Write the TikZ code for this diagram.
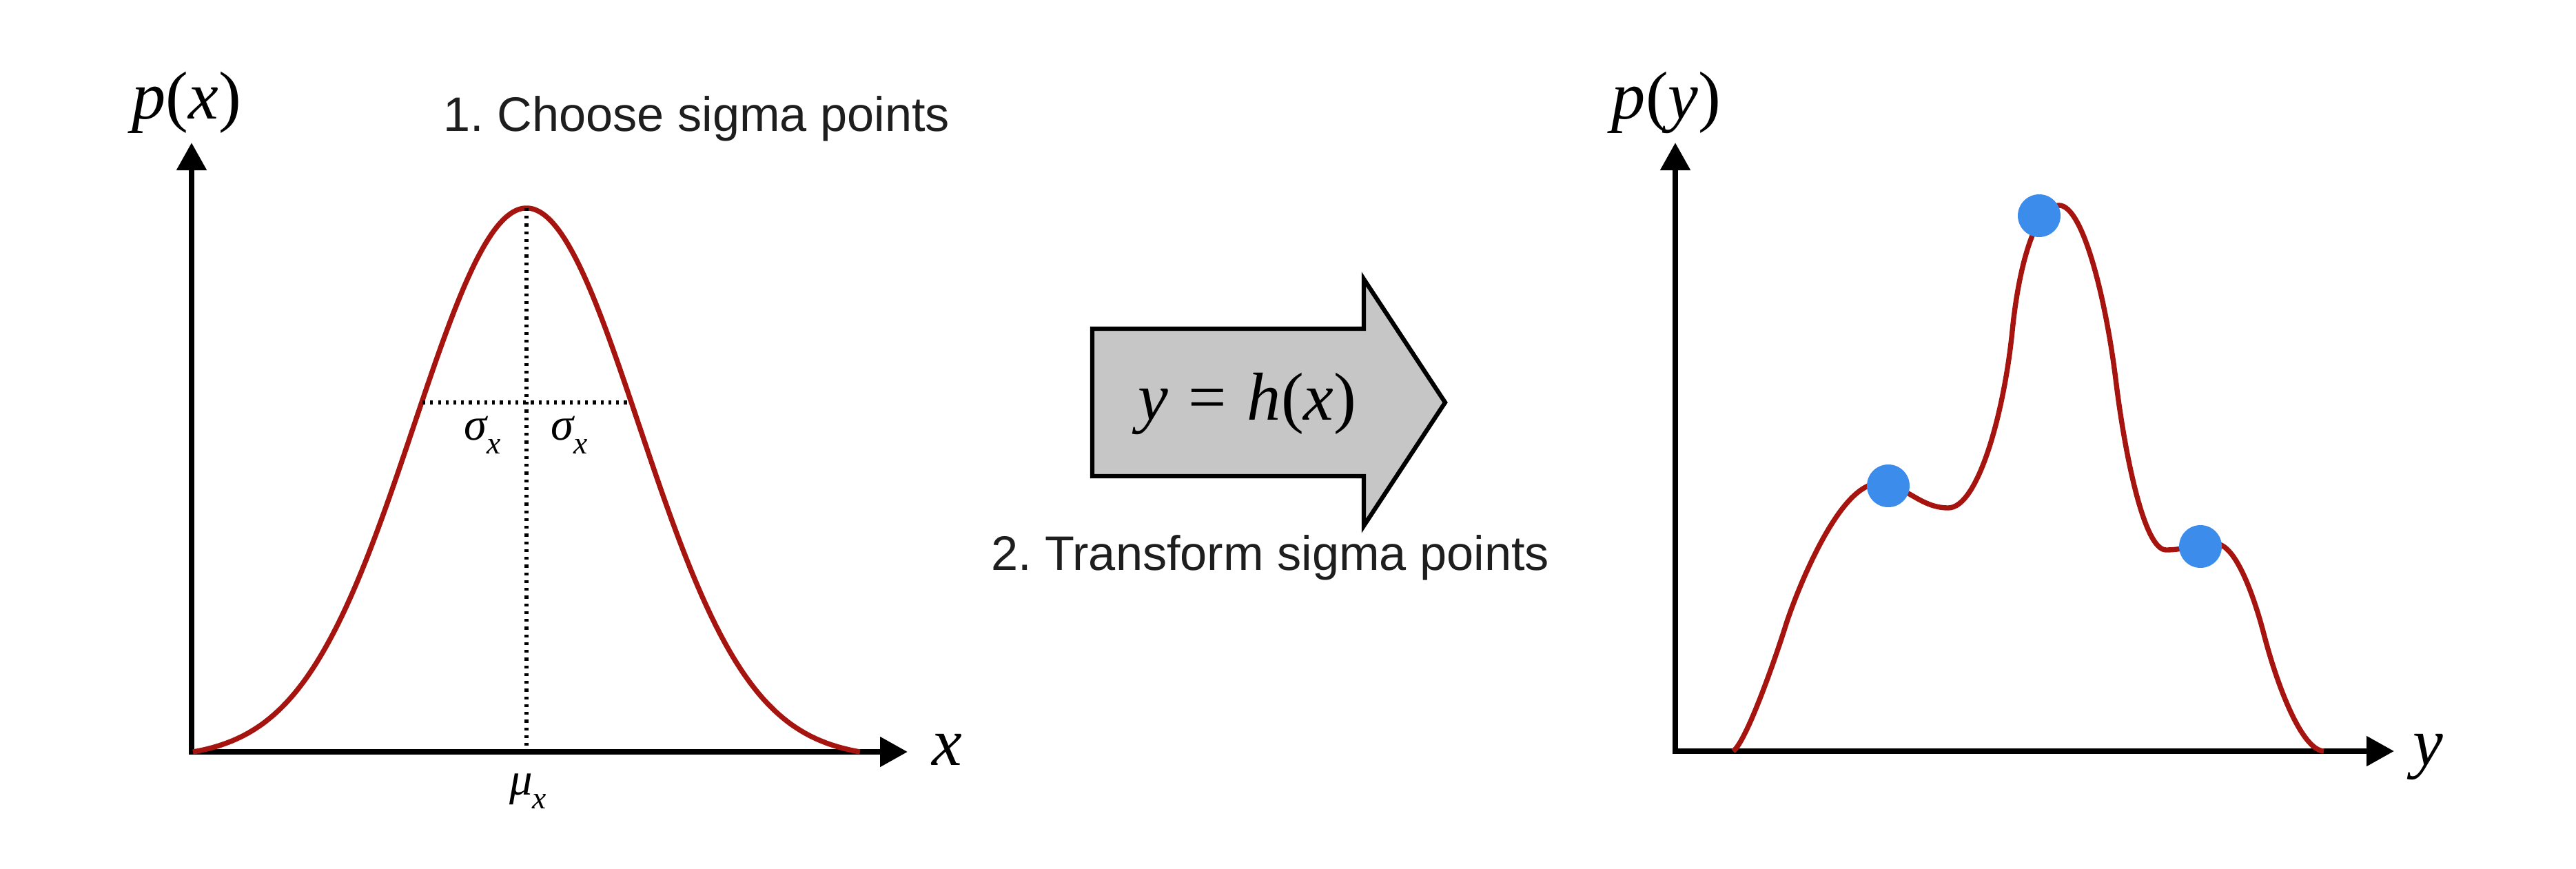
\documentclass[tikz,border=0pt]{standalone}
\usepackage{fontspec}
\setmainfont{Liberation Sans}
\newfontfamily\tmfont{Liberation Serif}
\usetikzlibrary{arrows.meta}
\definecolor{curvered}{RGB}{165,20,15}
\definecolor{dotblue}{RGB}{60,140,235}
\definecolor{arrowgray}{RGB}{198,198,198}
\definecolor{txt}{RGB}{30,30,30}
\newcommand\mvar[1]{{\tmfont\itshape #1}}
\newcommand\mup[1]{{\tmfont #1}}
\newcommand\msub[1]{\raisebox{-0.3em}{\fontsize{13}{13}\selectfont\tmfont\itshape #1}}
\begin{document}
\begin{tikzpicture}[
  axis/.style={line width=2.3pt, -{Triangle[length=4mm,width=4.2mm]}},
  curve/.style={curvered, line width=2.1pt},
  guide/.style={line width=1.5pt, dash pattern=on 1.2pt off 2pt},
  sdot/.style={circle, fill=dotblue, minimum size=0.62cm, inner sep=0pt},
  biglabel/.style={inner sep=0pt, font=\fontsize{28}{30}\selectfont},
  smalllabel/.style={inner sep=0pt, font=\fontsize{19}{21}\selectfont},
  caption/.style={inner sep=0pt, text=txt, font=\fontsize{20}{24}\selectfont},
]
\useasboundingbox (0,0) rectangle (37.38,12.60);

% ---------- left plot ----------
\coordinate (lo) at (2.78,1.69);
\coordinate (loy) at (2.78,1.65);
\coordinate (lox) at (2.74,1.69);
\coordinate (lytip) at (2.78,10.53);
\coordinate (lxtip) at (13.17,1.69);
\draw[axis] (loy) -- (lytip);
\draw[axis] (lox) -- (lxtip);

\draw[curve] plot[domain=2.80:12.48, samples=240]
  (\x, {1.69 + 7.89*(exp(-((\x-7.64)*(\x-7.64))/(2*1.63*1.63)) - 0.0122)/(1-0.0122)});

\coordinate (mutop) at (7.64,9.58);
\coordinate (mubot) at (7.64,1.72);
\coordinate (sl) at (6.13,6.76);
\coordinate (sr) at (9.16,6.76);
\draw[guide] (mutop) -- (mubot);
\draw[guide] (sl) -- (sr);

\node[biglabel, anchor=base] (px) at (2.71,10.88) {\mvar{p}\mup{(}\mvar{x}\mup{)}};
\node[caption, anchor=base] (stepone) at (10.11,10.70) {1.\ Choose sigma points};
\node[biglabel, anchor=base] (xlab) at (13.74,1.50) {\mvar{x}};
\node[smalllabel, anchor=base] (sigl) at (7.00,6.22) {\mvar{σ}\msub{x}};
\node[smalllabel, anchor=base] (sigr) at (8.26,6.22) {\mvar{σ}\msub{x}};
\node[smalllabel, anchor=base] (mu) at (7.66,1.07) {\mvar{μ}\msub{x}};

% ---------- transform arrow ----------
\draw[line width=1.8pt, fill=arrowgray, line join=miter]
  (15.85,7.83) -- (19.79,7.83) -- (19.79,8.55) -- (20.97,6.76)
  -- (19.79,4.97) -- (19.79,5.69) -- (15.85,5.69) -- cycle;
\node[biglabel, anchor=base] (fx) at (18.10,6.51)
  {\mvar{y}\hspace{0.3em}\mup{=}\hspace{0.3em}\mvar{h}\mup{(}\mvar{x}\mup{)}};
\node[caption, anchor=base] (steptwo) at (18.43,4.33) {2.\ Transform sigma points};

% ---------- right plot ----------
\coordinate (ro) at (24.31,1.70);
\coordinate (roy) at (24.31,1.66);
\coordinate (rox) at (24.27,1.70);
\coordinate (rytip) at (24.31,10.53);
\coordinate (rxtip) at (34.74,1.70);
\draw[axis] (roy) -- (rytip);
\draw[axis] (rox) -- (rxtip);

\coordinate (c0) at (25.15,1.70);
\coordinate (c1) at (25.92,3.55);
\coordinate (c2) at (27.25,5.58);
\coordinate (c3) at (28.27,5.23);
\coordinate (c4) at (29.20,7.80);
\coordinate (c5) at (29.88,9.62);
\coordinate (c6) at (30.70,7.10);
\coordinate (c7) at (31.43,4.62);
\coordinate (c8) at (32.15,4.71);
\coordinate (c9) at (32.85,3.40);
\coordinate (c10) at (33.72,1.70);
\draw[curve] (c0) .. controls (25.35,1.85) and (25.78,3.10) .. (c1)
  .. controls (26.10,4.10) and (26.70,5.58) .. (c2)
  .. controls (27.65,5.58) and (27.85,5.23) .. (c3)
  .. controls (28.70,5.23) and (29.08,6.60) .. (c4)
  .. controls (29.30,8.80) and (29.55,9.62) .. (c5)
  .. controls (30.22,9.62) and (30.55,8.30) .. (c6)
  .. controls (30.82,6.10) and (31.10,4.62) .. (c7)
  .. controls (31.70,4.62) and (31.90,4.71) .. (c8)
  .. controls (32.45,4.71) and (32.72,3.90) .. (c9)
  .. controls (33.05,2.63) and (33.40,1.72) .. (c10);

\node[sdot] (dleft) at (27.40,5.55) {};
\node[sdot] (dpeak) at (29.59,9.47) {};
\node[sdot] (dright) at (31.93,4.67) {};

\node[biglabel, anchor=base] (py) at (24.18,10.88) {\mvar{p}\mup{(}\mvar{y}\mup{)}};
\node[biglabel, anchor=base] (ylab) at (35.23,1.50) {\mvar{y}};
\end{tikzpicture}
\end{document}
